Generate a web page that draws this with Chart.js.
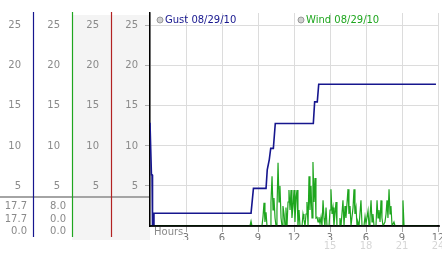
<!DOCTYPE html>
<html>
<head>
<meta charset="utf-8">
<style>
  html, body { margin: 0; padding: 0; background: #fff; }
  #wrap { width: 442px; height: 253px; }
</style>
</head>
<body>
<div id="wrap"><canvas id="windChart" width="442" height="253"></canvas></div>
<script src="https://cdn.jsdelivr.net/npm/chart.js@4.4.0/dist/chart.umd.min.js"></script>
<script>
'use strict';

// Gust series (hours since midnight / mph)
const gustHours = [0, 0.08, 0.12, 0.17, 0.21, 0.29, 0.33, 8.42, 8.62, 9.67, 9.77, 9.94, 10.06, 10.28, 10.44, 13.61, 13.72, 13.94, 14.06, 23.83];
const gustValues = [12.9, 12.9, 6.4, 6.4, 0, 0, 1.6, 1.6, 4.7, 4.7, 7.0, 8.3, 9.7, 9.7, 12.8, 12.8, 15.5, 15.5, 17.7, 17.7];

// Wind series
const windHours = [
  0, 8.33, 8.42, 8.50, 9.33, 9.42, 9.50, 9.58, 9.67, 9.75,
  10.00, 10.08, 10.17, 10.25, 10.33, 10.42, 10.50, 10.58, 10.67, 10.75,
  10.83, 10.92, 11.00, 11.08, 11.17, 11.25, 11.33, 11.42, 11.50, 11.58,
  11.67, 11.75, 11.83, 11.92, 12.00, 12.08, 12.17, 12.25, 12.33, 12.42,
  12.50, 12.67, 12.75, 12.83, 12.92, 13.00, 13.08, 13.17, 13.25, 13.33,
  13.42, 13.50, 13.58, 13.67, 13.75, 13.83, 13.92, 14.00, 14.08, 14.17,
  14.25, 14.33, 14.42, 14.50, 14.58, 14.67, 14.75, 14.92, 15.00, 15.08,
  15.17, 15.25, 15.33, 15.50, 15.58, 15.75, 15.83, 15.92, 16.08, 16.17,
  16.25, 16.33, 16.50, 16.58, 16.67, 16.75, 16.92, 17.00, 17.08, 17.17,
  17.25, 17.33, 17.42, 17.58, 17.67, 17.83, 17.92, 18.00, 18.17, 18.25,
  18.33, 18.42, 18.50, 18.58, 18.67, 18.83, 18.92, 19.00, 19.08, 19.17,
  19.25, 19.33, 19.42, 19.58, 19.67, 19.75, 19.83, 19.92, 20.00, 20.08,
  20.17, 20.33, 20.42, 21.00, 21.08, 21.17, 23.92
];
const windValues = [
  0, 0, 0.6, 0, 0, 1.2, 2.9, 0.5, 1.7, 0,
  0, 3.0, 6.2, 2.0, 3.5, 1.0, 0, 2.0, 7.9, 3.0,
  5.0, 1.0, 0, 2.5, 1.5, 0, 2.3, 0, 3.0, 4.5,
  2.0, 4.5, 1.0, 2.5, 4.5, 0.5, 3.5, 4.5, 0, 2.0,
  0, 0, 1.5, 0.8, 0, 1.5, 3.0, 0, 6.2, 2.0,
  5.0, 1.0, 8.0, 3.0, 6.0, 1.0, 1.1, 0.5, 1.1, 0.3,
  1.1, 0, 3.2, 1.0, 0, 2.3, 0, 0, 2.0, 4.6,
  1.5, 2.3, 0, 3.0, 0, 0, 1.0, 0, 3.2, 0,
  2.5, 1.0, 4.6, 1.5, 2.5, 0, 2.3, 4.6, 1.5, 2.3,
  0, 0.5, 0, 3.2, 0, 0, 1.2, 0.3, 1.9, 0,
  1.0, 3.2, 0.5, 1.5, 0, 0, 3.2, 1.0, 2.0, 0.5,
  3.2, 1.0, 0, 0.5, 1.5, 3.2, 1.0, 4.6, 1.5, 2.5,
  0, 0.5, 0, 0, 3.2, 0, 0
];

const seriesNames = ['Gust 08/29/10', 'Wind 08/29/10'];
const seriesColors = ['#16168e', '#1fa61f', '#b22222'];

const yMax = 26.6;
const yTicks = [5, 10, 15, 20, 25];
const hourTicks = [0, 3, 6, 9, 12, 15, 18, 21, 24];
const hourLabels = ['', '3', '6', '9', '12', '3', '6', '9', '12'];
const hourLabels24 = ['', '', '', '', '', '15', '18', '21', '24'];

const FONT = 'DejaVu Sans';
const LABEL_GRAY = '#8a8a8a';

function toPoints(xs, ys) {
  return xs.map((x, i) => ({ x, y: ys[i] }));
}

// min / last / max rows shown under the side columns
function statsOf(values) {
  const max = Math.max(...values);
  const last = values[values.length - 1];
  const min = Math.min(...values);
  return [max, last, min].map(v => v.toFixed(1));
}

function fixSize(prop, size) {
  return scale => {
    scale[prop] = size;
    scale.paddingTop = 0;
    scale.paddingBottom = 0;
    scale.paddingLeft = 0;
    scale.paddingRight = 0;
  };
}

function setTicks(values) {
  return scale => { scale.ticks = values.map(value => ({ value })); };
}

function sideAxis(weight, width) {
  return {
    position: 'left',
    weight,
    min: 0,
    max: yMax,
    afterBuildTicks: setTicks(yTicks),
    afterFit: fixSize('width', width),
    grid: { display: false, drawTicks: false },
    border: { display: false },
    ticks: { padding: 12, color: LABEL_GRAY, font: { family: FONT, size: 10 } }
  };
}

const panelPlugin = {
  id: 'panel',
  beforeDraw(chart) {
    const { ctx, chartArea, scales } = chart;
    ctx.save();
    ctx.fillStyle = '#f4f4f4';
    ctx.fillRect(scales.y2.left, chartArea.top + 2, scales.y.right - scales.y2.left, chartArea.bottom - chartArea.top + 12);
    ctx.restore();
  },
  afterDatasetsDraw(chart) {
    const { ctx, chartArea } = chart;
    ctx.save();
    ctx.strokeStyle = '#000';
    ctx.lineWidth = 1.5;
    ctx.beginPath();
    ctx.moveTo(chartArea.left, chartArea.bottom);
    ctx.lineTo(chartArea.right + 2, chartArea.bottom);
    ctx.stroke();
    ctx.restore();
  },
  afterDraw(chart) {
    const { ctx, chartArea, scales } = chart;
    const bottom = chartArea.bottom;
    ctx.save();

    // separator above the stats rows
    ctx.strokeStyle = '#a4a4a4';
    ctx.lineWidth = 2;
    ctx.beginPath();
    ctx.moveTo(0, bottom - 29);
    ctx.lineTo(chartArea.left - 1, bottom - 29);
    ctx.stroke();

    // coloured column rules
    ['y4', 'y3', 'y2'].forEach((id, i) => {
      const x = Math.round(scales[id].right) + 0.5;
      ctx.strokeStyle = seriesColors[i];
      ctx.lineWidth = 1.2;
      ctx.beginPath();
      ctx.moveTo(x, chartArea.top - 1);
      ctx.lineTo(x, bottom + 11);
      ctx.stroke();
    });

    // stats
    ctx.font = '10px "' + FONT + '"';
    ctx.fillStyle = LABEL_GRAY;
    ctx.textAlign = 'right';
    ctx.textBaseline = 'middle';
    const rows = [bottom - 20, bottom - 7, bottom + 5];
    [statsOf(gustValues), statsOf(windValues)].forEach((stats, i) => {
      const x = scales[['y4', 'y3'][i]].right - 6;
      stats.forEach((s, r) => ctx.fillText(s, x, rows[r]));
    });

    // axis name
    ctx.textAlign = 'left';
    ctx.fillText('Hours', chartArea.left + 4, bottom + 6);

    // legend
    const legendX = [chartArea.left + 10, chartArea.left + chartArea.width / 2 + 7];
    chart.data.datasets.forEach((ds, i) => {
      const cx = legendX[i];
      const cy = chartArea.top + 7;
      ctx.beginPath();
      ctx.arc(cx, cy, 3, 0, Math.PI * 2);
      ctx.fillStyle = '#d0d0d0';
      ctx.fill();
      ctx.strokeStyle = '#999';
      ctx.lineWidth = 1;
      ctx.stroke();
      ctx.fillStyle = ds.borderColor;
      ctx.fillText(ds.label, cx + 5, cy + 0.5);
    });
    ctx.restore();
  }
};

const chart = new Chart(document.getElementById('windChart'), {
  type: 'line',
  data: {
    datasets: [
      {
        label: seriesNames[0],
        data: toPoints(gustHours, gustValues),
        borderColor: seriesColors[0],
        borderWidth: 1.6,
        pointRadius: 0,
        tension: 0,
        yAxisID: 'y'
      },
      {
        label: seriesNames[1],
        data: toPoints(windHours, windValues),
        borderColor: seriesColors[1],
        borderWidth: 1.2,
        pointRadius: 0,
        tension: 0,
        yAxisID: 'y'
      }
    ]
  },
  options: {
    responsive: false,
    animation: false,
    devicePixelRatio: 1,
    layout: { padding: { top: 13, right: 4, left: 0, bottom: 0 } },
    plugins: {
      legend: { display: false },
      tooltip: { enabled: false }
    },
    scales: {
      x: {
        type: 'linear',
        position: 'bottom',
        weight: 0,
        min: 0,
        max: 24,
        afterBuildTicks: setTicks(hourTicks),
        afterFit: fixSize('height', 14),
        grid: {
          color: '#dcdcdc',
          tickLength: 6,
          tickColor: c => (c.index === 0 ? 'rgba(0,0,0,0)' : '#a8a8a8')
        },
        border: { color: '#000', width: 1.5 },
        ticks: {
          padding: 0,
          maxRotation: 0,
          autoSkip: false,
          color: '#777',
          font: { family: FONT, size: 10 },
          callback: (v, i) => hourLabels[i]
        }
      },
      x2: {
        type: 'linear',
        position: 'bottom',
        weight: 1,
        min: 0,
        max: 24,
        afterBuildTicks: setTicks(hourTicks),
        afterFit: fixSize('height', 13),
        grid: { display: false, drawTicks: false },
        border: { display: false },
        ticks: {
          padding: 1,
          maxRotation: 0,
          autoSkip: false,
          color: '#d6d6d6',
          font: { family: FONT, size: 10, lineHeight: 1 },
          callback: (v, i) => hourLabels24[i]
        }
      },
      y: {
        position: 'left',
        weight: 0,
        min: 0,
        max: yMax,
        afterBuildTicks: setTicks(yTicks),
        afterFit: fixSize('width', 39),
        grid: { color: '#dcdcdc', tickColor: '#b0b0b0', tickLength: 5 },
        border: { color: '#000', width: 1.5 },
        ticks: { padding: 7, color: LABEL_GRAY, font: { family: FONT, size: 10 } }
      },
      y2: sideAxis(1, 39),
      y3: sideAxis(2, 39),
      y4: sideAxis(3, 33)
    }
  },
  plugins: [panelPlugin]
});
</script>
</body>
</html>
